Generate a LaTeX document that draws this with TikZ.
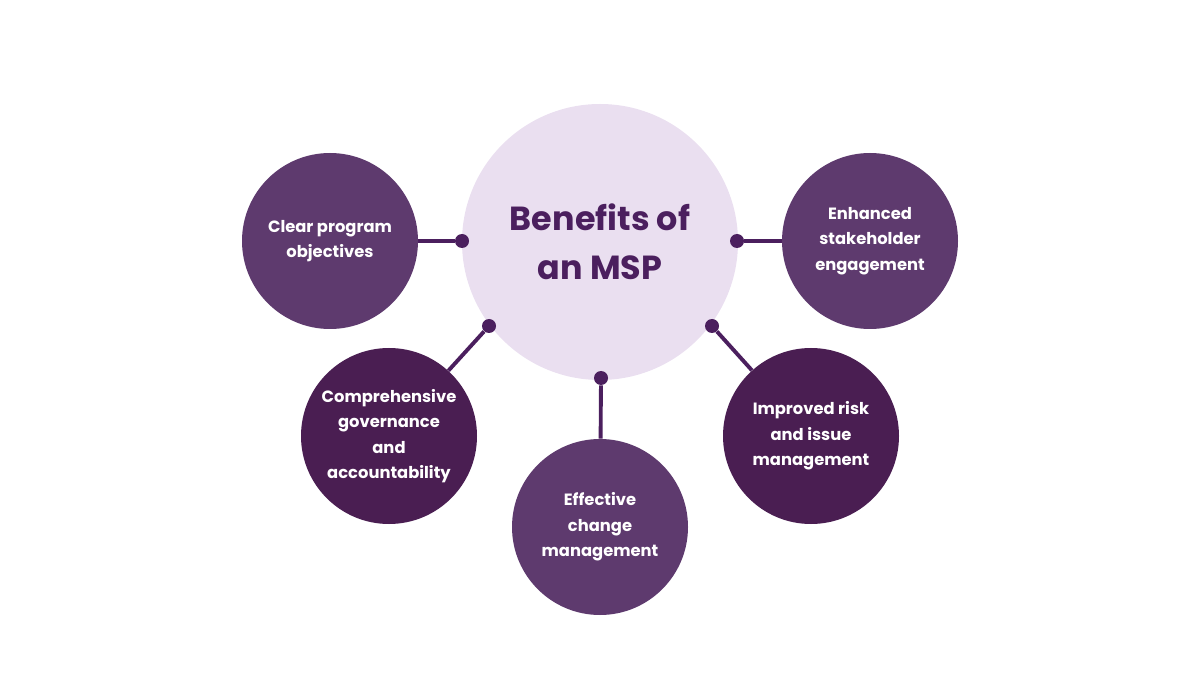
\documentclass[tikz,border=0pt]{standalone}
\usepackage{fontspec}
\setmainfont{Poppins}
\definecolor{hubfill}{HTML}{EADFF0}
\definecolor{hubtext}{HTML}{4B1F5E}
\definecolor{midpurple}{HTML}{5E3A6E}
\definecolor{deeppurple}{HTML}{4A1E52}
\tikzset{
  benefit/.style={circle, minimum size=176\pxu, inner sep=0pt, text=white, align=center,
    font=\bfseries\fontsize{9.3}{14.4}\selectfont},
  joint/.style={circle, fill=hubtext, minimum size=14\pxu, inner sep=0pt},
  link/.style={hubtext, line width=2.2pt}
}
\newcommand{\pxu}{*0.02cm}
\begin{document}
\begin{tikzpicture}[x=0.02cm, y=-0.02cm]
    \useasboundingbox (0,0) rectangle (1200,675);
    \node[circle, fill=hubfill, minimum size=276\pxu, text=hubtext, align=center,
      font=\bfseries\fontsize{19}{28}\selectfont] (hub) at (600,242) {Benefits of\\an MSP};
    % satellites
    \node[benefit, fill=midpurple] (clear) at (330,241) {Clear program\\objectives};
    \node[benefit, fill=midpurple] (stake) at (870,241) {Enhanced\\stakeholder\\engagement};
    \node[benefit, fill=deeppurple] (gov) at (389,436) {Comprehensive\\governance\\and\\accountability};
    \node[benefit, fill=midpurple] (change) at (600,527) {Effective\\change\\management};
    \node[benefit, fill=deeppurple] (risk) at (811,436) {Improved risk\\and issue\\management};
    % joints on the hub
    \node[joint] (jclear) at (462,241) {};
    \node[joint] (jstake) at (737,241) {};
    \node[joint] (jgov) at (489,326) {};
    \node[joint] (jchange) at (601,378) {};
    \node[joint] (jrisk) at (712,326) {};
    \draw[link] (jclear) -- (clear);
    \draw[link] (jstake) -- (stake);
    \draw[link] (jgov) -- (gov);
    \draw[link] (jchange) -- (change);
    \draw[link] (jrisk) -- (risk);
\end{tikzpicture}
\end{document}
